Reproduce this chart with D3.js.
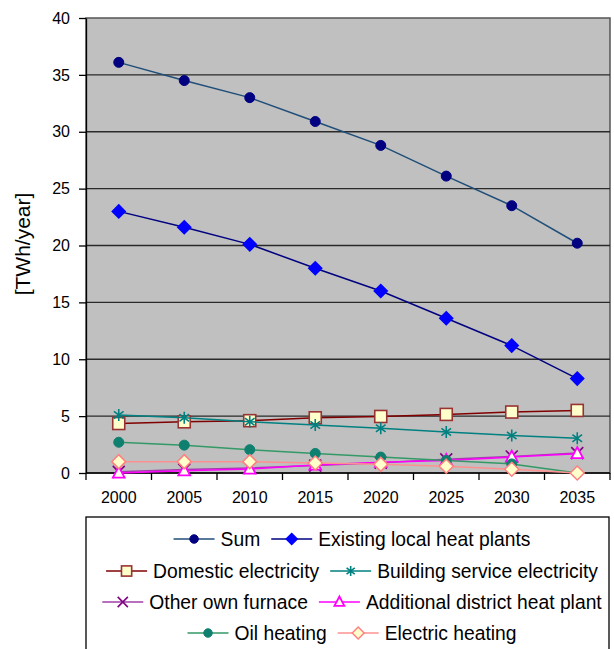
<!DOCTYPE html>
<html>
<head>
<meta charset="utf-8">
<script src="https://cdn.jsdelivr.net/npm/d3@7"></script>
<style>
  html, body { margin: 0; padding: 0; background: #fff; }
  svg { display: block; font-family: "Liberation Sans", Arial, sans-serif; }
</style>
</head>
<body>
<svg id="chart" width="614" height="649"></svg>
<script>
// Energy demand per year, 2000–2035
const years = ["2000", "2005", "2010", "2015", "2020", "2025", "2030", "2035"];
const yTicks = [0, 5, 10, 15, 20, 25, 30, 35, 40];

const sum              = [36.1, 34.5, 33.0, 30.9, 28.8, 26.1, 23.5, 20.2];
const existingLocal    = [23.0, 21.6, 20.1, 18.0, 16.0, 13.6, 11.2, 8.3];
const domesticElec     = [4.35, 4.5, 4.6, 4.85, 4.97, 5.15, 5.36, 5.5];
const buildingService  = [5.1, 4.85, 4.5, 4.22, 3.93, 3.6, 3.3, 3.05];
const otherFurnace     = [0.1, 0.3, 0.45, 0.65, 0.9, 1.2, 1.45, 1.75];
const additionalDH     = [0.0, 0.2, 0.35, 0.7, 0.95, 1.1, 1.4, 1.7];
const oilHeating       = [2.7, 2.45, 2.05, 1.72, 1.4, 1.1, 0.8, 0.0];
const electricHeating  = [1.0, 1.0, 1.0, 0.88, 0.76, 0.6, 0.33, 0.0];

const seriesNames = ["Sum", "Existing local heat plants", "Domestic electricity",
  "Building service electricity", "Other own furnace", "Additional district heat plant",
  "Oil heating", "Electric heating"];
const seriesValues = [sum, existingLocal, domesticElec, buildingService,
  otherFurnace, additionalDH, oilHeating, electricHeating];

// visual style per series
const styles = [
  { line: "#1f4e79", marker: "circle",   fill: "#000080", stroke: "#000080", size: 5 },
  { line: "#000080", marker: "diamond",  fill: "#0000ff", stroke: "#0000ff", size: 6.5 },
  { line: "#800000", marker: "square",   fill: "#ffffcc", stroke: "#993333", size: 6 },
  { line: "#008080", marker: "asterisk", fill: "none",    stroke: "#008080", size: 6 },
  { line: "#a040a8", marker: "cross",    fill: "none",    stroke: "#800080", size: 6 },
  { line: "#ff00ff", marker: "triangle", fill: "#ffffee", stroke: "#ff00ff", size: 6.5 },
  { line: "#339966", marker: "circle",   fill: "#0f8070", stroke: "#0f8070", size: 5 },
  { line: "#ff9090", marker: "diamond",  fill: "#ffffcc", stroke: "#ff8080", size: 7 }
];

const svg = d3.select("#chart");
const plot = { left: 86, right: 610, top: 18, bottom: 473 };

const x = d3.scalePoint().domain(years).range([plot.left, plot.right]).padding(0.5);
const xBand = d3.scaleBand().domain(years).range([plot.left, plot.right]);
const y = d3.scaleLinear().domain([0, 40]).range([plot.bottom, plot.top]);

// plot background
svg.append("rect")
  .attr("x", plot.left).attr("y", plot.top)
  .attr("width", plot.right - plot.left).attr("height", plot.bottom - plot.top)
  .attr("fill", "#c0c0c0").attr("stroke", "#555").attr("stroke-width", 1.5);

// horizontal gridlines
svg.append("g").selectAll("line").data(yTicks.filter(d => d > 0 && d < 40)).join("line")
  .attr("x1", plot.left).attr("x2", plot.right)
  .attr("y1", d => y(d)).attr("y2", d => y(d))
  .attr("stroke", "#2a2a2a").attr("stroke-width", 1.4);

// y axis
const yAxis = svg.append("g").attr("transform", `translate(${plot.left},0)`)
  .call(d3.axisLeft(y).tickValues(yTicks).tickSize(7).tickPadding(9).tickSizeOuter(0));
yAxis.select(".domain").attr("stroke", "#000").attr("stroke-width", 1.3);
yAxis.selectAll(".tick line").attr("stroke", "#000").attr("stroke-width", 1.3);
yAxis.selectAll("text").attr("font-size", 16).attr("fill", "#000")
  .attr("font-family", "Liberation Sans, Arial, sans-serif");

// x axis: ticks at category boundaries
const xAxisG = svg.append("g").attr("transform", `translate(0,${plot.bottom})`);
xAxisG.append("line").attr("x1", plot.left).attr("x2", plot.right)
  .attr("stroke", "#000").attr("stroke-width", 1.3);
const boundaries = years.map(d => xBand(d)).concat([plot.right]);
xAxisG.selectAll("line.tk").data(boundaries).join("line").attr("class", "tk")
  .attr("x1", d => d).attr("x2", d => d).attr("y1", 0).attr("y2", 7)
  .attr("stroke", "#000").attr("stroke-width", 1.3);
xAxisG.selectAll("text").data(years).join("text")
  .attr("x", d => x(d)).attr("y", 30)
  .attr("text-anchor", "middle").attr("font-size", 16).attr("fill", "#000")
  .text(d => d);

// y axis title
svg.append("text")
  .attr("transform", "translate(30,244) rotate(-90)")
  .attr("text-anchor", "middle").attr("font-size", 21).attr("fill", "#000")
  .text("[TWh/year]");

// marker drawing
function drawMarker(g, type, size, st) {
  const s = size;
  if (type === "circle") {
    g.append("circle").attr("r", s).attr("fill", st.fill).attr("stroke", st.stroke);
  } else if (type === "diamond") {
    g.append("path").attr("d", `M0,${-s}L${s},0L0,${s}L${-s},0Z`)
      .attr("fill", st.fill).attr("stroke", st.stroke).attr("stroke-width", 1.5);
  } else if (type === "square") {
    g.append("rect").attr("x", -s).attr("y", -s).attr("width", 2 * s).attr("height", 2 * s)
      .attr("fill", st.fill).attr("stroke", st.stroke).attr("stroke-width", 1.6);
  } else if (type === "asterisk") {
    g.append("path").attr("d", `M0,${-s}V${s}M${-s * 0.8},${-s * 0.6}L${s * 0.8},${s * 0.6}M${-s * 0.8},${s * 0.6}L${s * 0.8},${-s * 0.6}`)
      .attr("stroke", st.stroke).attr("stroke-width", 1.6).attr("fill", "none");
  } else if (type === "cross") {
    g.append("path").attr("d", `M${-s},${-s}L${s},${s}M${-s},${s}L${s},${-s}`)
      .attr("stroke", st.stroke).attr("stroke-width", 1.6).attr("fill", "none");
  } else if (type === "triangle") {
    g.append("path").attr("d", `M0,${-s}L${s * 0.9},${s * 0.7}L${-s * 0.9},${s * 0.7}Z`)
      .attr("fill", st.fill).attr("stroke", st.stroke).attr("stroke-width", 1.8);
  }
}

// series lines and markers
const line = d3.line().x((d, i) => x(years[i])).y(d => y(d));
seriesValues.forEach((vals, k) => {
  const st = styles[k];
  const g = svg.append("g");
  g.append("path").datum(vals).attr("d", line)
    .attr("fill", "none").attr("stroke", st.line).attr("stroke-width", 1.5);
  vals.forEach((v, i) => {
    const m = g.append("g").attr("transform", `translate(${x(years[i])},${y(v)})`);
    drawMarker(m, st.marker, st.size, st);
  });
});

// legend
const legendBox = { x: 86, y: 517, w: 523, h: 140 };
svg.append("rect")
  .attr("x", legendBox.x).attr("y", legendBox.y)
  .attr("width", legendBox.w).attr("height", legendBox.h)
  .attr("fill", "#fff").attr("stroke", "#000").attr("stroke-width", 1.3);

const rows = [[0, 1], [2, 3], [4, 5], [6, 7]];
const rowY = [539, 571, 602, 633];
const sampleW = 41, textGap = 6, itemGap = 11, centerX = 352;
rows.forEach((row, r) => {
  const rg = svg.append("g");
  let cx = 0;
  row.forEach(k => {
    const st = styles[k];
    const ig = rg.append("g").attr("transform", `translate(${cx},0)`);
    ig.append("line").attr("x1", 0).attr("x2", sampleW).attr("y1", 0).attr("y2", 0)
      .attr("stroke", st.line).attr("stroke-width", 1.5);
    const m = ig.append("g").attr("transform", `translate(${sampleW / 2},0)`);
    drawMarker(m, st.marker, st.size * 0.85, st);
    const t = ig.append("text").attr("x", sampleW + textGap).attr("y", 0)
      .attr("dy", "0.35em").attr("font-size", 19.3).attr("fill", "#000")
      .text(seriesNames[k]);
    cx += sampleW + textGap + t.node().getComputedTextLength() + itemGap;
  });
  const total = cx - itemGap;
  rg.attr("transform", `translate(${centerX - total / 2},${rowY[r]})`);
});
</script>
</body>
</html>
